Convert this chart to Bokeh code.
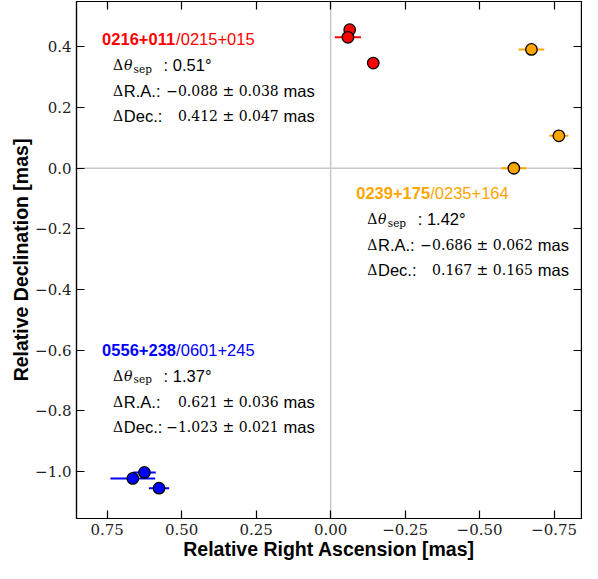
from bokeh.plotting import figure
from bokeh.models import (Range1d, LinearAxis, FixedTicker, CustomJSTickFormatter,
                          Span, Label, ColumnDataSource)
from bokeh.embed import file_html
from bokeh.resources import INLINE
import numpy as np

# ---------------- data ----------------
red_ra = [-0.064, -0.058, -0.143]
red_dec = [0.457, 0.432, 0.347]
red_ra_err = [0.015, 0.044, 0.016]

orange_ra = [-0.674, -0.766, -0.615]
orange_dec = [0.392, 0.107, 0.000]
orange_ra_err = [0.043, 0.032, 0.042]

blue_ra = [0.625, 0.664, 0.576]
blue_dec = [-1.003, -1.023, -1.055]
blue_ra_err = [0.038, 0.075, 0.034]

x_ticks = [0.75, 0.5, 0.25, 0.0, -0.25, -0.5, -0.75]
x_tick_labels = ["0.75", "0.50", "0.25", "0.00", "\u22120.25", "\u22120.50", "\u22120.75"]
y_ticks = [0.4, 0.2, 0.0, -0.2, -0.4, -0.6, -0.8, -1.0]
y_tick_labels = ["0.4", "0.2", "0.0", "\u22120.2", "\u22120.4", "\u22120.6", "\u22120.8", "\u22121.0"]

pair_main = ["0216+011", "0239+175", "0556+238"]
pair_other = ["/0215+015", "/0235+164", "/0601+245"]
pair_sep = [": 0.51\u00b0", ": 1.42\u00b0", ": 1.37\u00b0"]
pair_dra = ["\u22120.088 \u00b1 0.038", "\u22120.686 \u00b1 0.062", "0.621 \u00b1 0.036"]
pair_ddec = ["0.412 \u00b1 0.047", "0.167 \u00b1 0.165", "\u22121.023 \u00b1 0.021"]
pair_colors = ["#ff0000", "#ffa500", "#0000ff"]
# annotation anchor positions (data coords)
pair_text_x = [0.767, -0.086, 0.767]
pair_text_y = [0.425, -0.082, -0.598]

# ---------------- figure ----------------
p = figure(width=582, height=563, output_backend="svg", toolbar_location=None,
           x_range=Range1d(0.853, -0.842), y_range=Range1d(-1.155, 0.550),
           min_border_left=76, min_border_right=1, min_border_top=1, min_border_bottom=45,
           background_fill_color="white", border_fill_color="white")
p.grid.visible = False
p.outline_line_color = "black"
p.outline_line_width = 1.2

fmt_code = """
for (let i = 0; i < vals.length; i++) {
  if (Math.abs(vals[i] - tick) < 1e-6) { return labs[i]; }
}
return "";
"""

def style_axis(ax, show_labels):
    ax.major_tick_in = 8
    ax.major_tick_out = 0
    ax.minor_tick_line_color = None
    ax.axis_line_color = "black"
    ax.axis_line_width = 1.2
    ax.major_tick_line_color = "black"
    ax.major_tick_line_width = 1.2
    if show_labels:
        ax.major_label_text_font = "DejaVu Serif"
        ax.major_label_text_font_size = "15px"
        ax.major_label_text_color = "#222222"
        ax.major_label_standoff = 5
        ax.axis_label_text_font = "Liberation Sans"
        ax.axis_label_text_font_style = "bold"
        ax.axis_label_text_font_size = "19.5px"
        ax.axis_label_text_color = "black"
        ax.axis_label_standoff = 0
    else:
        ax.formatter = CustomJSTickFormatter(code='return "";')
        ax.major_label_text_font_size = "1px"
        ax.major_label_standoff = 0

p.xaxis.ticker = FixedTicker(ticks=x_ticks)
p.xaxis.formatter = CustomJSTickFormatter(args=dict(vals=x_ticks, labs=x_tick_labels), code=fmt_code)
p.yaxis.ticker = FixedTicker(ticks=y_ticks)
p.yaxis.formatter = CustomJSTickFormatter(args=dict(vals=y_ticks, labs=y_tick_labels), code=fmt_code)
p.xaxis.axis_label = "Relative Right Ascension [mas]"
p.yaxis.axis_label = "Relative Declination [mas]"
style_axis(p.xaxis[0], True)
style_axis(p.yaxis[0], True)

top_ax = LinearAxis(ticker=FixedTicker(ticks=x_ticks))
style_axis(top_ax, False)
p.add_layout(top_ax, "above")
right_ax = LinearAxis(ticker=FixedTicker(ticks=y_ticks))
style_axis(right_ax, False)
p.add_layout(right_ax, "right")

# zero lines
p.add_layout(Span(location=0, dimension="height", line_color="#c8c8c8", line_width=1.5, level="underlay"))
p.add_layout(Span(location=0, dimension="width", line_color="#c8c8c8", line_width=1.5, level="underlay"))

# data points with error bars
for ra, dec, err, col in [(red_ra, red_dec, red_ra_err, pair_colors[0]),
                          (orange_ra, orange_dec, orange_ra_err, pair_colors[1]),
                          (blue_ra, blue_dec, blue_ra_err, pair_colors[2])]:
    ra_a = np.array(ra); err_a = np.array(err)
    src = ColumnDataSource(dict(x=ra_a, y=np.array(dec), x0=ra_a - err_a, x1=ra_a + err_a))
    p.segment(x0="x0", y0="y", x1="x1", y1="y", source=src, line_color=col, line_width=2)
    p.scatter(x="x", y="y", source=src, size=11.5, fill_color=col, line_color="black", line_width=1.3)

# annotations
SANS = "Liberation Sans"
SERIF = "DejaVu Serif"

def lab(x, y, text, dx, dy, font, size, color="black", style="normal", align="left"):
    p.add_layout(Label(x=x, y=y, x_offset=dx, y_offset=dy, text=text, text_font=font,
                       text_font_size=f"{size}px", text_color=color, text_font_style=style,
                       text_align=align, text_baseline="alphabetic"))

for i in range(3):
    x, y, c = pair_text_x[i], pair_text_y[i], pair_colors[i]
    lab(x, y, pair_main[i], 0, 0, SANS, 16.5, c, "bold")
    lab(x, y, pair_other[i], 74, 0, SANS, 16.5, c)
    # line 2: Delta theta_sep
    lab(x, y, "\u0394", 11, -26, SERIF, 14)
    lab(x, y, "\u03b8", 21.8, -26, SERIF, 14, style="italic")
    lab(x, y, "sep", 31.5, -29.5, SERIF, 10.5)
    lab(x, y, pair_sep[i], 61.5, -26, SANS, 16.5)
    # line 3: Delta R.A.
    lab(x, y, "\u0394", 11, -52, SERIF, 14)
    lab(x, y, "R.A.:", 21.7, -52, SANS, 16.5)
    lab(x, y, pair_dra[i], 176.6, -52, SERIF, 14, align="right")
    lab(x, y, "mas", 181.5, -52, SANS, 16.5)
    # line 4: Delta Dec.
    lab(x, y, "\u0394", 11, -77, SERIF, 14)
    lab(x, y, "Dec.:", 21.7, -77, SANS, 16.5)
    lab(x, y, pair_ddec[i], 176.6, -77, SERIF, 14, align="right")
    lab(x, y, "mas", 181.5, -77, SANS, 16.5)

open("out.html", "w").write(file_html(p, INLINE))
